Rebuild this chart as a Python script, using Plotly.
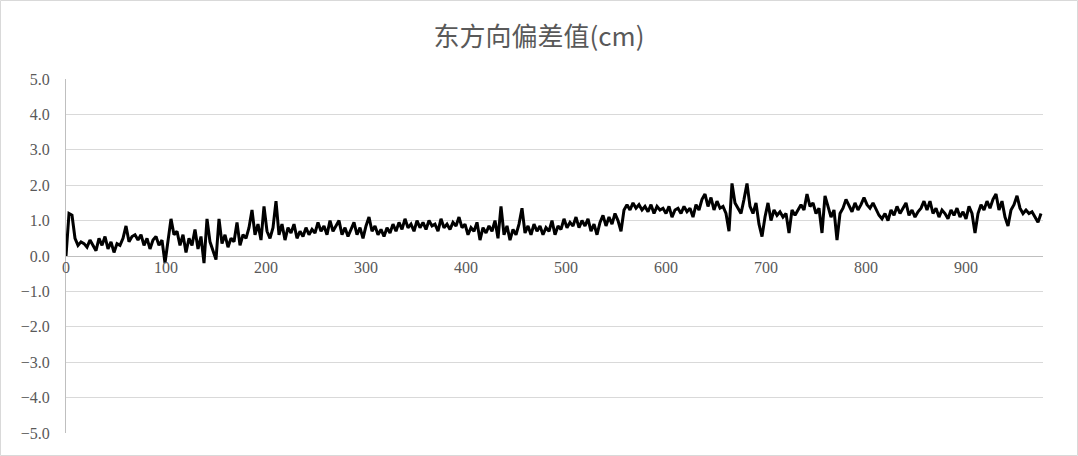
import plotly.graph_objects as go

title_text = "东方向偏差值(cm)"

# East-direction deviation values (cm), sampled every 3 samples
east_dev = [
    0.0, 1.2, 1.15, 0.5, 0.3, 0.4, 0.35, 0.25, 0.45, 0.3,
    0.15, 0.5, 0.3, 0.55, 0.2, 0.4, 0.1, 0.35, 0.3, 0.5,
    0.85, 0.4, 0.55, 0.6, 0.45, 0.6, 0.3, 0.5, 0.2, 0.45,
    0.55, 0.3, 0.45, -0.2, 0.5, 1.05, 0.6, 0.7, 0.3, 0.6,
    0.1, 0.5, 0.3, 0.75, 0.2, 0.55, -0.2, 1.05, 0.4, 0.15,
    -0.1, 1.05, 0.35, 0.6, 0.25, 0.5, 0.4, 0.95, 0.3, 0.6,
    0.5, 0.8, 1.3, 0.6, 0.9, 0.45, 1.4, 0.7, 0.5, 0.8,
    1.55, 0.6, 0.9, 0.45, 0.8, 0.65, 0.9, 0.5, 0.7, 0.55,
    0.8, 0.6, 0.75, 0.65, 0.95, 0.7, 0.85, 0.6, 1.0, 0.7,
    0.85, 1.0, 0.6, 0.8, 0.55, 0.75, 0.95, 0.6, 0.8, 0.5,
    0.85, 1.1, 0.7, 0.85, 0.6, 0.75, 0.55, 0.8, 0.65, 0.9,
    0.7, 0.95, 0.75, 1.05, 0.8, 0.9, 0.7, 1.0, 0.8, 0.95,
    0.75, 1.0, 0.85, 0.9, 0.7, 1.05, 0.8, 0.9, 0.75, 0.95,
    0.85, 1.1, 0.8, 0.9, 0.6, 0.8, 0.7, 0.95, 0.45, 0.8,
    0.65, 0.85, 0.7, 1.0, 0.5, 1.4, 0.6, 0.85, 0.45, 0.75,
    0.6, 0.9, 1.35, 0.65, 0.85, 0.6, 0.9, 0.7, 0.85, 0.6,
    0.8, 0.7, 1.0, 0.6, 0.85, 0.75, 1.05, 0.8, 0.95, 0.85,
    1.1, 0.8, 1.0, 0.85, 1.05, 0.7, 0.9, 0.6, 0.95, 1.15,
    0.85, 1.1, 0.9, 1.2, 1.0, 0.7, 1.3, 1.45, 1.3, 1.5,
    1.35, 1.45, 1.3, 1.4, 1.25, 1.45, 1.2, 1.4, 1.3, 1.35,
    1.2, 1.4, 1.1, 1.3, 1.35, 1.2, 1.4, 1.25, 1.35, 1.1,
    1.45, 1.3, 1.6, 1.75, 1.4, 1.65, 1.3, 1.55, 1.35, 1.4,
    1.2, 0.7, 2.05, 1.5, 1.35, 1.2, 1.6, 2.05, 1.4, 1.2,
    1.5, 0.9, 0.55, 1.1, 1.5, 1.0, 1.3, 1.15, 1.25, 1.1,
    1.2, 0.65, 1.3, 1.15, 1.3, 1.45, 1.3, 1.75, 1.4, 1.5,
    1.2, 1.35, 0.65, 1.7, 1.4, 1.1, 1.3, 0.45, 1.2, 1.35,
    1.6, 1.4, 1.25, 1.5, 1.3, 1.45, 1.65, 1.45, 1.35, 1.5,
    1.3, 1.15, 1.05, 1.2, 1.0, 1.3, 1.15, 1.4, 1.2, 1.35,
    1.5, 1.15, 1.3, 1.1, 1.25, 1.35, 1.55, 1.3, 1.55, 1.2,
    1.35, 1.1, 1.3, 1.2, 1.05, 1.3, 1.15, 1.35, 1.1, 1.25,
    1.05, 1.4, 1.2, 0.65, 1.2, 1.45, 1.3, 1.55, 1.35, 1.6,
    1.75, 1.3, 1.55, 1.1, 0.85, 1.3, 1.45, 1.7, 1.35, 1.2,
    1.3, 1.2, 1.25, 1.1, 0.95, 1.2,
]
sample_idx = [3 * i for i in range(len(east_dev))]

x_ticks = [0, 100, 200, 300, 400, 500, 600, 700, 800, 900]
y_ticks = [-5, -4, -3, -2, -1, 0, 1, 2, 3, 4, 5]
y_tick_text = ["\u22125.0", "\u22124.0", "\u22123.0", "\u22122.0", "\u22121.0",
               "0.0", "1.0", "2.0", "3.0", "4.0", "5.0"]

W, H = 1078, 456
ML, MR, MT, MB = 66, 35, 79, 23
PW, PH = W - ML - MR, H - MT - MB

fig = go.Figure()
fig.add_trace(go.Scatter(
    x=sample_idx, y=east_dev, mode="lines",
    line=dict(color="black", width=3),
    showlegend=False, hoverinfo="skip",
))

grey = "#595959"
fig.update_layout(
    width=W, height=H,
    margin=dict(l=ML, r=MR, t=MT, b=MB),
    paper_bgcolor="white", plot_bgcolor="white",
    title=dict(text=title_text, x=0.5, xanchor="center", y=1 - 37 / H, yanchor="middle",
               font=dict(family="Noto Sans CJK SC", size=26, color=grey)),
    xaxis=dict(
        range=[0, 977], tickvals=x_ticks, ticktext=[str(v) for v in x_ticks],
        showgrid=False, zeroline=False, showline=False,
        anchor="free", position=0.5, ticks="",
        tickfont=dict(family="Liberation Serif", size=16, color=grey),
    ),
    yaxis=dict(
        range=[-5, 5], tickvals=y_ticks, ticktext=y_tick_text,
        showgrid=True, gridcolor="#d9d9d9", gridwidth=1,
        zeroline=True, zerolinecolor="#bfbfbf", zerolinewidth=1,
        showline=True, linecolor="#bfbfbf", linewidth=1,
        ticks="", ticklabelstandoff=12,
        tickfont=dict(family="Liberation Serif", size=16, color=grey),
    ),
    shapes=[dict(
        type="rect", xref="paper", yref="paper", layer="below",
        x0=(0.5 - ML) / PW, x1=(W - 0.5 - ML) / PW,
        y0=-(MB - 0.5) / PH, y1=(H - MB - 0.5) / PH,
        line=dict(color="#d9d9d9", width=1),
    )],
)

fig.write_html(
    "out.html",
    config={"displayModeBar": False},
    post_script="document.body.style.margin='0';document.body.style.overflow='hidden';",
)
